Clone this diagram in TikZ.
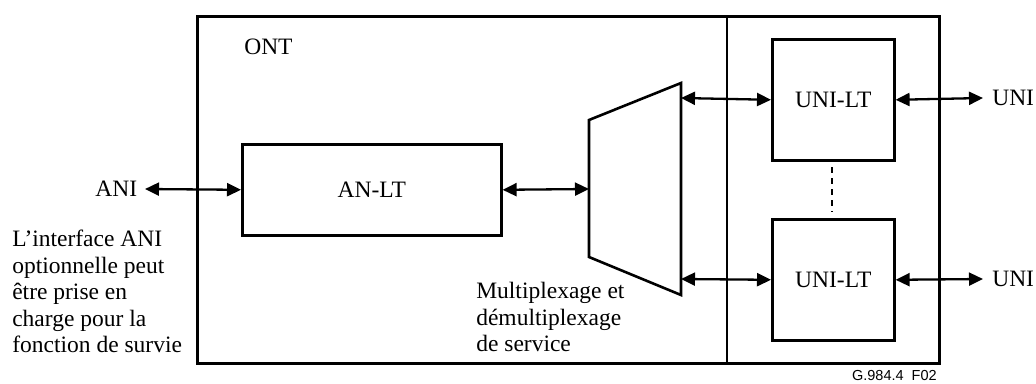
\documentclass[tikz,border=0pt]{standalone}
\usepackage{fontspec}
\setmainfont{Liberation Serif}
\newfontfamily\figsans{Liberation Sans}
\usetikzlibrary{arrows.meta}
\begin{document}
\begin{tikzpicture}[x=1pt,y=-1pt,
  line width=2.6pt,
  every node/.style={font=\fontsize{23.5}{26.5}\selectfont},
  blockbox/.style={draw,inner sep=0pt},
  lbl/.style={inner sep=0pt},
  link/.style={line width=2.3pt,{Triangle[length=14pt,width=13pt]}-{Triangle[length=14pt,width=13pt]}},
  mux/.style={draw,line join=miter}]
\useasboundingbox (0,0) rectangle (1036,383);

% ONT enclosure and the divider before the user-side ports
\node[blockbox,minimum width=742pt,minimum height=347pt,anchor=north west] (ont) at (196,15) {};
\coordinate (divtop) at (727,15);
\coordinate (divbot) at (727,362);
\draw (divtop) -- (divbot);
\node[lbl,anchor=base west] (ontlbl) at (243,54) {ONT};

% access network line termination
\node[blockbox,minimum width=259pt,minimum height=91pt,anchor=north west] (anlt) at (241,143) {};
\node[lbl] (anltlbl) at (anlt.center) {AN-LT};

% service multiplexer (trapezoid)
\coordinate (mlt) at (589,120);
\coordinate (mrt) at (681,83);
\coordinate (mrb) at (681,295);
\coordinate (mlb) at (589,257);
\draw[mux] (mlt) -- (mrt) -- (mrb) -- (mlb) -- cycle;
\coordinate (muxin) at (589,189);
\coordinate (muxout1) at (681,98);
\coordinate (muxout2) at (681,279);

% user network line terminations
\node[blockbox,minimum width=122pt,minimum height=121pt,anchor=north west] (uni1) at (771,38) {UNI-LT};
\node[blockbox,minimum width=122pt,minimum height=121pt,anchor=north west] (uni2) at (771,218) {UNI-LT};
\coordinate (dotA) at (832,167);
\coordinate (dotB) at (832,212);
\draw[line width=2.3pt,dash pattern=on 6pt off 5pt] (dotA) -- (dotB);

% interface labels
\node[lbl,anchor=east,inner xsep=6.5pt] (ani) at (145,189) {ANI};
\node[lbl,anchor=west,inner xsep=8pt] (unia) at (983,98) {UNI};
\node[lbl,anchor=west,inner xsep=8pt] (unib) at (983,279) {UNI};

% connectors
\draw[link] (ani.east) -- (anlt.west);
\draw[link] (anlt.east) -- (muxin);
\draw[link] (muxout1) -- (uni1.west);
\draw[link] (muxout2) -- (uni2.west);
\draw[link] (uni1.east) -- (unia.west);
\draw[link] (uni2.east) -- (unib.west);

% notes
\node[lbl,anchor=north west,align=left] (aninote) at (11,229)
  {L’interface ANI\\optionnelle peut\\être prise en\\charge pour la\\fonction de survie};
\node[lbl,anchor=north west,align=left] (muxnote) at (475,281)
  {Multiplexage et\\démultiplexage\\de service};

\node[lbl,anchor=base east,font=\figsans\fontsize{14.5}{16}\selectfont] (figid) at (938,380) {G.984.4\ \ F02};
\end{tikzpicture}
\end{document}
